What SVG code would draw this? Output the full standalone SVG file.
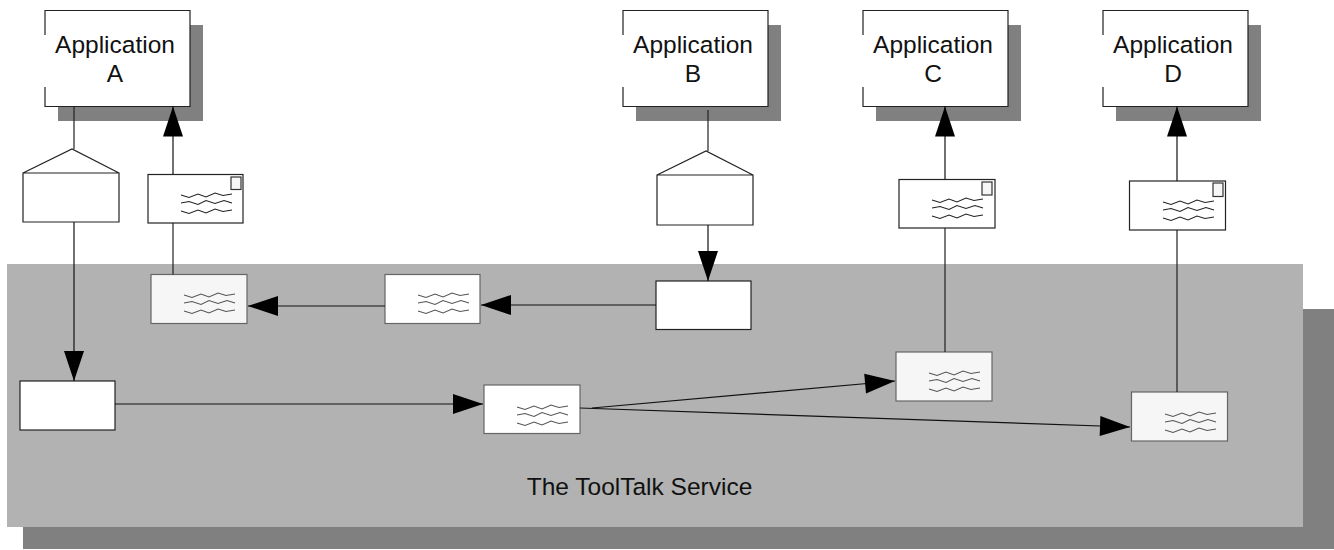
<svg xmlns="http://www.w3.org/2000/svg" xmlns:xlink="http://www.w3.org/1999/xlink" width="1334" height="550" viewBox="0 0 1334 550">
<style>
text{font-family:"Liberation Sans",Arial,sans-serif;font-size:24.500px;fill:#111;text-anchor:middle}
.shadow{fill:#808080}
.box{fill:#fff;stroke:#222;stroke-width:1.200}
.inner{fill:#fff;stroke:#666;stroke-width:1.200}
.pale{fill:#f6f6f6;stroke:#666;stroke-width:1.200}
.stamp{fill:#f6f6f6;stroke:#333;stroke-width:1.200}
.wave{fill:none;stroke:#222;stroke-width:1.100}
.wave2{fill:none;stroke:#555;stroke-width:1.100}
.link{fill:none;stroke:#222;stroke-width:1.200}
.arrow{stroke:#111;stroke-width:1.200;fill:none;marker-end:url(#head)}
</style>
<defs>
<marker id="head" markerUnits="userSpaceOnUse" markerWidth="32" markerHeight="22" refX="30" refY="10" orient="auto" overflow="visible"><path d="M0 0L30 10L0 20Z" fill="#000"/></marker>
<path id="w" d="M0 0l8 2.500 9-3.500 8 3 9-4 8 2.500 9-1.500M0 8l8-1.500 9 3 8-4 9 3 9-3 8 2.500M0 16l8 2.500 9-3.500 8 3 9-4 8 2.500 9-1.500"/>
</defs>
<g id="service">
<rect class="shadow" x="23" y="309" width="1311" height="240"/>
<rect x="7" y="264" width="1296" height="263" fill="#b2b2b2"/>
<text x="639.500" y="495">The ToolTalk Service</text>
</g>
<g id="app-a"><rect class="shadow" x="58" y="25" width="145" height="96"/><rect x="45" y="10.500" width="145" height="96" fill="#fff"/><path class="link" d="M45 35V10.500H190V106.500H45V87"/><text x="115" y="53">Application</text><text x="115" y="82">A</text></g>
<g id="app-b"><rect class="shadow" x="636" y="25" width="145" height="96"/><rect x="623" y="10.500" width="145" height="96" fill="#fff"/><path class="link" d="M623 35V10.500H768V106.500H623V87"/><text x="693" y="53">Application</text><text x="693" y="82">B</text></g>
<g id="app-c"><rect class="shadow" x="876" y="25" width="145" height="96"/><rect x="863" y="10.500" width="145" height="96" fill="#fff"/><path class="link" d="M863 35V10.500H1008V106.500H863V87"/><text x="933" y="53">Application</text><text x="933" y="82">C</text></g>
<g id="app-d"><rect class="shadow" x="1116" y="25" width="145" height="96"/><rect x="1103" y="10.500" width="145" height="96" fill="#fff"/><path class="link" d="M1103 35V10.500H1248V106.500H1103V87"/><text x="1173" y="53">Application</text><text x="1173" y="82">D</text></g>
<g id="envelope-a"><path class="box" d="M23 173H119V222H23ZM23 173L72 149L119 173"/></g>
<g id="envelope-b"><path class="box" d="M657 175H753V225H657ZM657 175L706 151L753 175"/></g>
<g id="letter-a"><rect class="box" x="148" y="174.500" width="95" height="48.500"/><rect class="stamp" x="231" y="177" width="10" height="12.500"/><use xlink:href="#w" href="#w" class="wave" x="181" y="195"/></g>
<g id="letter-c"><rect class="box" x="899" y="179.500" width="96" height="48.500"/><rect class="stamp" x="982" y="182" width="10" height="13"/><use xlink:href="#w" href="#w" class="wave" x="932" y="200"/></g>
<g id="letter-d"><rect class="box" x="1129.500" y="181" width="96" height="49"/><rect class="stamp" x="1213" y="183" width="10" height="13.500"/><use xlink:href="#w" href="#w" class="wave" x="1163" y="202"/></g>
<g id="msg-a"><rect class="pale" x="151" y="274.500" width="96" height="49"/><use xlink:href="#w" href="#w" class="wave2" x="184" y="295"/></g>
<g id="msg-b"><rect class="inner" x="385" y="274.500" width="95" height="49"/><use xlink:href="#w" href="#w" class="wave2" x="418" y="295"/></g>
<g id="sender-b"><rect class="box" x="656" y="281" width="95" height="48.500"/></g>
<g id="sender-a"><rect class="box" x="20" y="381" width="95" height="49"/></g>
<g id="msg-router"><rect class="inner" x="484" y="385" width="96" height="48.500"/><use xlink:href="#w" href="#w" class="wave2" x="517" y="407"/></g>
<g id="msg-c"><rect class="pale" x="896" y="352" width="96" height="49"/><use xlink:href="#w" href="#w" class="wave2" x="929" y="373"/></g>
<g id="msg-d"><rect class="pale" x="1131.500" y="392" width="96" height="49"/><use xlink:href="#w" href="#w" class="wave2" x="1165" y="414"/></g>
<g id="connectors">
<path class="link" d="M74 107V149M173 274.500V223M945 352V228M1177 392V230M708 110V151"/>
<path class="arrow" d="M74 222V381"/>
<path class="arrow" d="M173 174.500V106.500"/>
<path class="arrow" d="M708 225V281"/>
<path class="arrow" d="M656 305H481"/>
<path class="arrow" d="M385 306H248"/>
<path class="arrow" d="M115 404H483"/>
<path class="arrow" d="M592 408L895 381"/>
<path class="arrow" d="M580 408L1130 427"/>
<path class="arrow" d="M945 179V106.500"/>
<path class="arrow" d="M1177 181V106.500"/>
</g>
</svg>
